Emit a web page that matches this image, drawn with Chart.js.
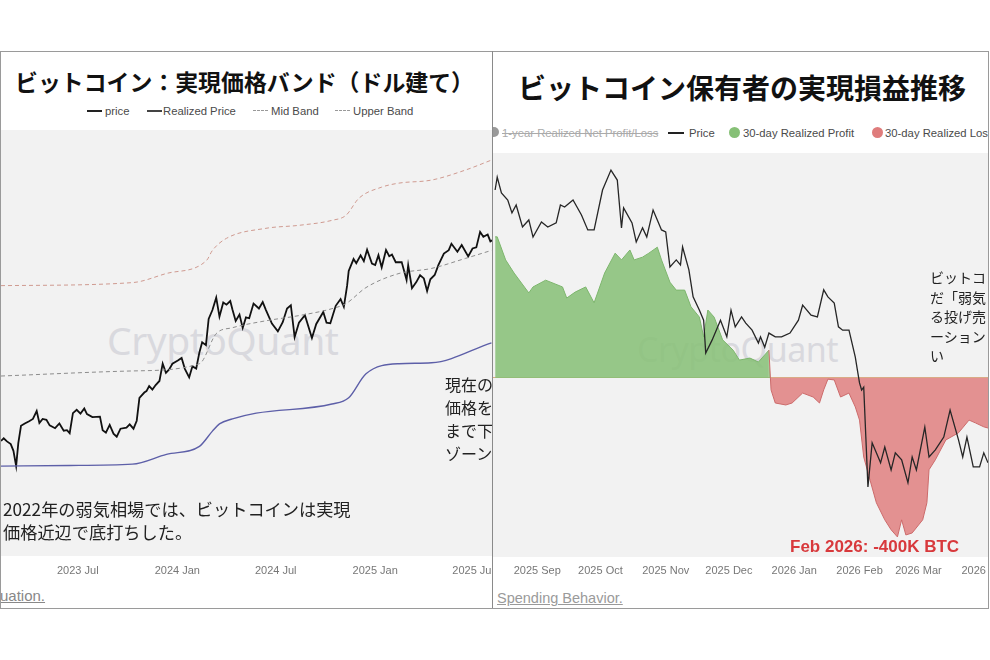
<!DOCTYPE html>
<html>
<head>
<meta charset="utf-8">
<script src="https://cdn.jsdelivr.net/npm/chart.js@4.4.1/dist/chart.umd.min.js"></script>
<style>
  body { margin: 0; width: 990px; height: 660px; background: #fff; position: relative; overflow: hidden;
         font-family: "Liberation Sans", Arial, sans-serif; }
  .frame { position: absolute; left: 0; top: 51px; width: 987px; height: 556px; border: 1px solid #9a9a9a; }
  .divider { position: absolute; left: 492px; top: 51px; width: 1px; height: 557px; background: #8a8a8a; z-index: 5; }
  .panel { position: absolute; top: 52px; height: 555px; overflow: hidden; background: #fff; }
  #leftPanel { left: 1px; width: 491px; }
  #rightPanel { left: 493px; width: 495px; }
  .abs { position: absolute; white-space: nowrap; }
  .title { font-family: "Noto Sans CJK JP", sans-serif; font-weight: 700; color: #111; line-height: 1; }
  .leg { font-size: 11.3px; color: #4a4a4a; line-height: 12px; }
  .mark { position: absolute; }
  .bg { position: absolute; background: #f2f2f2; }
  .wm { position: absolute; font-family: "Noto Sans", sans-serif; color: #d9d9de; letter-spacing: -0.5px; line-height: 1; }
  .note { font-family: "Noto Sans CJK JP", sans-serif; color: #222; }
  canvas { position: absolute; }
  .link { font-size: 15px; text-decoration: underline; line-height: 1; }
</style>
</head>
<body>
<div class="frame"></div>

<div class="panel" id="leftPanel">
  <div class="abs title" style="left:14px;top:18px;font-size:22.9px;">ビットコイン：実現価格バンド（ドル建て）</div>

  <div class="mark" style="left:86px;top:58px;width:15px;height:0;border-top:2px solid #222;"></div>
  <div class="abs leg" style="left:104px;top:53px;">price</div>
  <div class="mark" style="left:146px;top:58px;width:15px;height:0;border-top:2px solid #444;"></div>
  <div class="abs leg" style="left:162px;top:53px;">Realized Price</div>
  <div class="mark" style="left:252px;top:58px;width:15px;height:0;border-top:1.5px dashed #999;"></div>
  <div class="abs leg" style="left:270px;top:53px;">Mid Band</div>
  <div class="mark" style="left:334px;top:58px;width:15px;height:0;border-top:1.5px dashed #999;"></div>
  <div class="abs leg" style="left:352px;top:53px;">Upper Band</div>

  <div class="bg" style="left:0;top:78px;width:491px;height:426px;"></div>
  <div class="wm" style="left:106px;top:268px;font-size:39px;">CryptoQuant</div>
  <canvas id="leftChart" width="491" height="456" style="left:0;top:78px;"></canvas>

  <div class="abs note" style="left:444px;top:321px;font-size:16px;line-height:23px;white-space:normal;width:60px;">現在の<br>価格を<br>まで下<br>ゾーン</div>
  <div class="abs note" style="left:2px;top:445px;font-size:17.2px;line-height:23px;">2022年の弱気相場では、ビットコインは実現<br>価格近辺で底打ちした。</div>

  <div class="abs link" style="left:-1px;top:536px;color:#888;">uation.</div>
</div>

<div class="panel" id="rightPanel">
  <div class="abs title" style="left:25px;top:21px;font-size:28px;">ビットコイン保有者の実現損益推移</div>

  <div class="mark" style="left:-4px;top:75px;width:10px;height:10px;border-radius:50%;background:#999;"></div>
  <div class="abs leg" style="left:9px;top:75px;color:#aaa;text-decoration:line-through;">1-year Realized Net Profit/Loss</div>
  <div class="mark" style="left:175px;top:80px;width:16px;height:0;border-top:2px solid #222;"></div>
  <div class="abs leg" style="left:196px;top:75px;">Price</div>
  <div class="mark" style="left:236px;top:75px;width:11px;height:11px;border-radius:50%;background:#86c076;"></div>
  <div class="abs leg" style="left:250px;top:75px;">30-day Realized Profit</div>
  <div class="mark" style="left:379px;top:75px;width:11px;height:11px;border-radius:50%;background:#df7c7c;"></div>
  <div class="abs leg" style="left:392px;top:75px;">30-day Realized Loss</div>

  <div class="bg" style="left:0;top:101px;width:495px;height:404px;"></div>
  <div class="wm" style="left:144px;top:280px;font-size:34px;">CryptoQuant</div>
  <canvas id="rightChart" width="495" height="433" style="left:0;top:101px;"></canvas>

  <div class="abs note" style="left:437px;top:216px;font-size:14px;line-height:19.5px;">ビットコ<br>だ「弱気<br>る投げ売<br>ーション<br>い</div>
  <div class="abs" style="left:297px;top:485px;font-size:17px;font-weight:700;color:#d8393c;">Feb 2026: -400K BTC</div>

  <div class="abs link" style="left:4px;top:539px;font-size:14.5px;color:#9a9a9a;">Spending Behavior.</div>
</div>
<div class="divider"></div>

<script>
// ---------- left chart: realized price bands (USD) ----------
const leftRange = ['2023-02-09', '2025-08-05'];
const leftTickDates = ['2023-07-01', '2024-01-01', '2024-07-01', '2025-01-01', '2025-07-01'];
const leftTickLabels = ['2023 Jul', '2024 Jan', '2024 Jul', '2025 Jan', '2025 Jul'];

const btcPrice = [
  ['2023-02-09', 24400], ['2023-02-14', 24900], ['2023-02-20', 24300], ['2023-02-27', 23800],
  ['2023-03-04', 22600], ['2023-03-09', 20100], ['2023-03-13', 24000], ['2023-03-18', 27400],
  ['2023-03-25', 27900], ['2023-04-02', 28400], ['2023-04-09', 28900], ['2023-04-16', 30700],
  ['2023-04-21', 28000], ['2023-04-27', 28900], ['2023-05-04', 28700], ['2023-05-10', 27500],
  ['2023-05-20', 26900], ['2023-05-28', 27900], ['2023-06-05', 26400], ['2023-06-11', 26500],
  ['2023-06-16', 25900], ['2023-06-22', 30200], ['2023-06-29', 31000], ['2023-07-06', 30100],
  ['2023-07-13', 31300], ['2023-07-18', 30000], ['2023-07-28', 29300], ['2023-08-11', 29400],
  ['2023-08-16', 26500], ['2023-08-22', 26000], ['2023-08-29', 27600], ['2023-09-05', 25800],
  ['2023-09-11', 25200], ['2023-09-18', 26800], ['2023-09-29', 27000], ['2023-10-05', 27700],
  ['2023-10-12', 26800], ['2023-10-18', 28500], ['2023-10-23', 34000], ['2023-11-01', 35400],
  ['2023-11-05', 35800], ['2023-11-10', 37200], ['2023-11-16', 36200], ['2023-11-22', 37500],
  ['2023-11-29', 38700], ['2023-12-05', 44200], ['2023-12-11', 41200], ['2023-12-17', 42300],
  ['2023-12-23', 44200], ['2024-01-02', 45300], ['2024-01-09', 46200], ['2024-01-15', 42500],
  ['2024-01-23', 39800], ['2024-01-29', 43300], ['2024-02-05', 42600], ['2024-02-11', 48300],
  ['2024-02-16', 52100], ['2024-02-23', 51000], ['2024-02-28', 62400], ['2024-03-06', 66800],
  ['2024-03-13', 73500], ['2024-03-19', 63500], ['2024-03-26', 70800], ['2024-04-01', 69600],
  ['2024-04-08', 71600], ['2024-04-12', 67100], ['2024-04-18', 61400], ['2024-04-25', 64500],
  ['2024-05-01', 58200], ['2024-05-07', 63100], ['2024-05-13', 62700], ['2024-05-21', 70200],
  ['2024-05-31', 67600], ['2024-06-07', 71000], ['2024-06-13', 66800], ['2024-06-24', 60200],
  ['2024-07-05', 56700], ['2024-07-14', 60800], ['2024-07-22', 67600], ['2024-07-29', 69300],
  ['2024-08-05', 54200], ['2024-08-13', 60600], ['2024-08-24', 64200], ['2024-09-06', 53900],
  ['2024-09-14', 60000], ['2024-09-27', 65800], ['2024-10-03', 60600], ['2024-10-10', 60300],
  ['2024-10-20', 69000], ['2024-10-29', 72700], ['2024-11-04', 68500], ['2024-11-10', 80400],
  ['2024-11-13', 90300], ['2024-11-22', 98900], ['2024-11-27', 95800], ['2024-12-05', 101700],
  ['2024-12-11', 97300], ['2024-12-17', 106200], ['2024-12-26', 95500], ['2025-01-01', 94400],
  ['2025-01-07', 101900], ['2025-01-13', 92800], ['2025-01-21', 106100], ['2025-01-27', 101100],
  ['2025-02-01', 102400], ['2025-02-08', 96500], ['2025-02-19', 96600], ['2025-02-28', 84200],
  ['2025-03-03', 94200], ['2025-03-10', 79000], ['2025-03-18', 82800], ['2025-03-25', 87300],
  ['2025-04-01', 85200], ['2025-04-07', 77300], ['2025-04-13', 84600], ['2025-04-21', 87500],
  ['2025-04-28', 94500], ['2025-05-08', 103200], ['2025-05-17', 105900], ['2025-05-22', 111300],
  ['2025-06-02', 104600], ['2025-06-10', 110200], ['2025-06-22', 100900], ['2025-06-30', 107300],
  ['2025-07-07', 108200], ['2025-07-14', 121900], ['2025-07-20', 117400], ['2025-07-28', 119400],
  ['2025-08-02', 113300], ['2025-08-05', 114200]
];
const realizedPrice = [
  ['2023-02-09', 20100], ['2023-06-16', 20200], ['2023-10-10', 20400], ['2023-12-12', 22000],
  ['2024-02-11', 23400], ['2024-03-06', 26300], ['2024-03-19', 27800], ['2024-04-12', 28900],
  ['2024-05-26', 30200], ['2024-10-13', 32400], ['2024-11-13', 34000], ['2024-12-15', 40900],
  ['2025-02-14', 44200], ['2025-04-15', 44500], ['2025-08-04', 51900]
];
const midBand = [
  ['2023-02-09', 40200], ['2023-10-10', 41800], ['2024-02-11', 44200], ['2024-03-13', 55700],
  ['2024-04-12', 58300], ['2024-06-13', 61500], ['2024-08-13', 64000], ['2024-10-13', 67500],
  ['2024-11-08', 70200], ['2024-12-15', 79400], ['2025-02-14', 88500], ['2025-04-15', 92000],
  ['2025-06-17', 99400], ['2025-08-04', 105700]
];
const upperBand = [
  ['2023-02-09', 80600], ['2023-10-10', 82500], ['2023-12-12', 88500], ['2024-02-24', 97800],
  ['2024-03-06', 105700], ['2024-04-01', 116000], ['2024-06-13', 125300], ['2024-08-13', 128200],
  ['2024-10-13', 133200], ['2024-11-08', 138500], ['2024-12-02', 158000], ['2025-01-13', 172000],
  ['2025-02-14', 177400], ['2025-04-15', 181600], ['2025-06-17', 196200], ['2025-08-04', 211800]
];

// ---------- right chart: 30-day realized profit / loss (K BTC) and price (K USD) ----------
const rightRange = ['2025-08-11', '2026-04-03'];
const rightTickDates = ['2025-09-01', '2025-10-01', '2025-11-01', '2025-12-01', '2026-01-01', '2026-02-01', '2026-03-01', '2026-04-01'];
const rightTickLabels = ['2025 Sep', '2025 Oct', '2025 Nov', '2025 Dec', '2026 Jan', '2026 Feb', '2026 Mar', '2026 Apr'];

const price2 = [
  ['2025-08-12', 121.2], ['2025-08-13', 124.3], ['2025-08-15', 120.5], ['2025-08-18', 118.8],
  ['2025-08-20', 115.7], ['2025-08-22', 117.6], ['2025-08-25', 112.3], ['2025-08-28', 114.0],
  ['2025-08-30', 109.9], ['2025-09-03', 113.5], ['2025-09-06', 112.3], ['2025-09-10', 113.3],
  ['2025-09-12', 117.6], ['2025-09-14', 117.1], ['2025-09-18', 118.8], ['2025-09-22', 115.2],
  ['2025-09-25', 111.6], ['2025-09-28', 111.6], ['2025-10-02', 121.2], ['2025-10-06', 126.0],
  ['2025-10-09', 123.6], ['2025-10-11', 112.1], ['2025-10-12', 116.9], ['2025-10-16', 113.3],
  ['2025-10-18', 108.7], ['2025-10-21', 112.1], ['2025-10-23', 109.9], ['2025-10-26', 116.4],
  ['2025-10-28', 114.0], ['2025-10-30', 111.6], ['2025-11-01', 111.1], ['2025-11-03', 102.7],
  ['2025-11-06', 104.4], ['2025-11-08', 103.2], ['2025-11-09', 107.5], ['2025-11-12', 102.0],
  ['2025-11-14', 95.5], ['2025-11-17', 92.3], ['2025-11-19', 89.9], ['2025-11-20', 82.0],
  ['2025-11-23', 85.1], ['2025-11-27', 89.9], ['2025-11-30', 85.9], ['2025-12-02', 92.3],
  ['2025-12-04', 88.3], ['2025-12-07', 90.7], ['2025-12-09', 89.2], ['2025-12-12', 87.5],
  ['2025-12-15', 84.4], ['2025-12-16', 85.9], ['2025-12-18', 83.4], ['2025-12-20', 86.8],
  ['2025-12-23', 85.9], ['2025-12-26', 85.9], ['2025-12-30', 86.8], ['2026-01-03', 89.9],
  ['2026-01-05', 93.5], ['2026-01-09', 91.1], ['2026-01-12', 90.7], ['2026-01-15', 97.2],
  ['2026-01-17', 95.5], ['2026-01-20', 94.0], ['2026-01-22', 88.3], ['2026-01-24', 87.5],
  ['2026-01-27', 87.5], ['2026-01-30', 81.0], ['2026-01-31', 77.9], ['2026-02-01', 74.8],
  ['2026-02-02', 73.1], ['2026-02-03', 73.8], ['2026-02-04', 61.8], ['2026-02-05', 49.8],
  ['2026-02-07', 60.4], ['2026-02-09', 58.0], ['2026-02-11', 55.6], ['2026-02-13', 59.4],
  ['2026-02-16', 53.9], ['2026-02-18', 58.0], ['2026-02-21', 56.3], ['2026-02-24', 50.8],
  ['2026-02-26', 57.0], ['2026-02-28', 53.9], ['2026-03-04', 64.2], ['2026-03-06', 57.0],
  ['2026-03-09', 58.7], ['2026-03-13', 61.8], ['2026-03-16', 68.3], ['2026-03-20', 61.1],
  ['2026-03-22', 57.0], ['2026-03-24', 61.8], ['2026-03-27', 54.6], ['2026-03-30', 54.6],
  ['2026-04-01', 58.0], ['2026-04-03', 55.6]
];
const realizedPL30 = [
  ['2025-08-12', 355], ['2025-08-13', 355], ['2025-08-17', 297], ['2025-08-21', 264],
  ['2025-08-28', 214], ['2025-08-30', 229], ['2025-09-05', 246], ['2025-09-13', 229],
  ['2025-09-15', 201], ['2025-09-19', 216], ['2025-09-24', 229], ['2025-09-28', 189],
  ['2025-10-03', 264], ['2025-10-08', 314], ['2025-10-11', 297], ['2025-10-15', 322],
  ['2025-10-17', 297], ['2025-10-21', 304], ['2025-10-24', 314], ['2025-10-28', 329],
  ['2025-10-30', 297], ['2025-11-03', 241], ['2025-11-06', 221], ['2025-11-10', 221],
  ['2025-11-13', 179], ['2025-11-17', 153], ['2025-11-19', 103], ['2025-11-21', 171],
  ['2025-11-24', 153], ['2025-11-28', 96], ['2025-12-03', 70], ['2025-12-06', 45],
  ['2025-12-11', 50], ['2025-12-15', 40], ['2025-12-20', 70], ['2025-12-21', -30],
  ['2025-12-23', -63], ['2025-12-28', -68], ['2025-12-31', -63], ['2026-01-05', -38],
  ['2026-01-10', -48], ['2026-01-13', -63], ['2026-01-15', -30], ['2026-01-17', -3],
  ['2026-01-20', -5], ['2026-01-23', -48], ['2026-01-27', -38], ['2026-01-30', -73],
  ['2026-02-01', -106], ['2026-02-03', -199], ['2026-02-06', -257], ['2026-02-09', -314],
  ['2026-02-13', -357], ['2026-02-16', -382], ['2026-02-19', -400], ['2026-02-21', -357],
  ['2026-02-23', -395], ['2026-02-26', -390], ['2026-03-03', -357], ['2026-03-05', -314],
  ['2026-03-06', -231], ['2026-03-09', -206], ['2026-03-14', -156], ['2026-03-20', -138],
  ['2026-03-25', -106], ['2026-03-28', -113], ['2026-04-01', -123], ['2026-04-03', -126]
];

const day = s => Date.parse(s) / 864e5;
const pts = arr => arr.map(p => ({ x: day(p[0]), y: p[1] }));

function xAxis(range, tickDates, tickLabels) {
  return {
    type: 'linear',
    min: day(range[0]),
    max: day(range[1]),
    grid: { display: false, drawTicks: false },
    border: { display: false },
    afterBuildTicks: s => { s.ticks = tickDates.map(d => ({ value: day(d) })); },
    afterFit: s => { s.paddingLeft = 0; s.paddingRight = 0; },
    ticks: {
      autoSkip: false,
      maxRotation: 0,
      padding: 8,
      color: '#777',
      font: { family: '"Liberation Sans", Arial, sans-serif', size: 11 },
      callback: (v, i) => tickLabels[i]
    }
  };
}

function line(data, color, width, dash, axis, smooth) {
  return {
    data: pts(data),
    borderColor: color,
    borderWidth: width,
    borderDash: dash || [],
    pointRadius: 0,
    tension: 0,
    cubicInterpolationMode: smooth ? 'monotone' : 'default',
    fill: false,
    yAxisID: axis || 'y'
  };
}

new Chart(document.getElementById('leftChart'), {
  type: 'line',
  data: {
    datasets: [
      line(upperBand, '#cf9a90', 1, [4, 3], 'y', true),
      line(midBand, '#8c8c8c', 1, [4, 3], 'y', true),
      line(realizedPrice, '#5d5fa8', 1.4, null, 'y', true),
      line(btcPrice, '#111', 1.8)
    ]
  },
  options: {
    responsive: false,
    animation: false,
    layout: { padding: 0 },
    plugins: { legend: { display: false }, tooltip: { enabled: false } },
    scales: {
      x: xAxis(leftRange, leftTickDates, leftTickLabels),
      y: { type: 'logarithmic', min: 10000, max: 267000, display: false }
    }
  }
});

const plGreen = 'rgba(134,192,118,0.85)';
const plRed = 'rgba(222,120,120,0.8)';

new Chart(document.getElementById('rightChart'), {
  type: 'line',
  data: {
    datasets: [
      line(price2, '#262626', 1.3, null, 'yPrice'),
      {
        data: pts(realizedPL30),
        yAxisID: 'yPL',
        pointRadius: 0,
        tension: 0,
        borderWidth: 1,
        borderColor: '#7cb56c',
        segment: { borderColor: c => (c.p0.parsed.y < 0 || c.p1.parsed.y < 0) ? '#cc6b6b' : '#7cb56c' },
        fill: { target: { value: 0 }, above: plGreen, below: plRed }
      }
    ]
  },
  options: {
    responsive: false,
    animation: false,
    layout: { padding: 0 },
    plugins: { legend: { display: false }, tooltip: { enabled: false } },
    scales: {
      x: xAxis(rightRange, rightTickDates, rightTickLabels),
      yPL: {
        type: 'linear', position: 'left', min: -450, max: 566,
        ticks: { display: false },
        border: { display: false },
        afterBuildTicks: s => { s.ticks = [{ value: 0 }]; },
        grid: { drawTicks: false, color: '#d9ab86', lineWidth: 1 }
      },
      yPrice: { type: 'linear', position: 'right', min: 33, max: 130.1, display: false }
    }
  }
});
</script>
</body>
</html>
